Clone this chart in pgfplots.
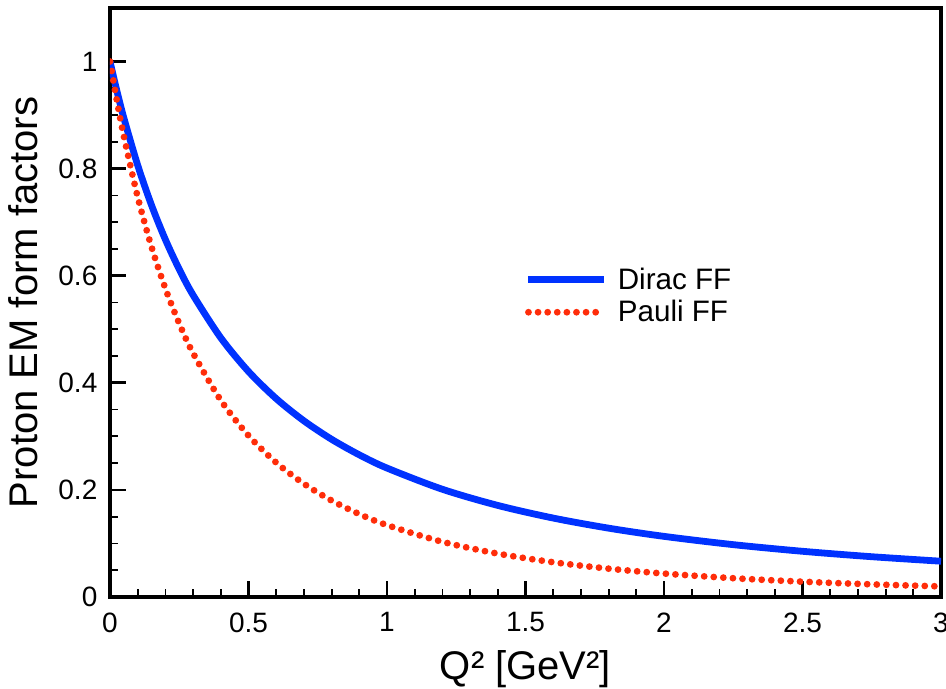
\documentclass[border=0pt]{standalone}
\usepackage{fontspec}
\setmainfont{Liberation Sans}
\usepackage{pgfplots}
\pgfplotsset{compat=1.18}
\definecolor{dblue}{RGB}{0,50,255}
\definecolor{pred}{RGB}{255,45,10}
\begin{document}
\begin{tikzpicture}
\begin{axis}[
  at={(0,0)}, anchor=south west,
  scale only axis,
  width=415.5pt, height=294.5pt,
  xmin=0, xmax=3, ymin=0, ymax=1.1,
  xtick={0,0.5,1,1.5,2,2.5,3},
  xticklabels={0,0.5,1,1.5,2,2.5,3},
  ytick={0,0.2,0.4,0.6,0.8,1},
  yticklabels={0,0.2,0.4,0.6,0.8,1},
  minor x tick num=4,
  minor y tick num=3,
  xtick pos=left, ytick pos=left,
  tick align=inside,
  axis line style={line width=1.7pt},
  major tick length=8pt, minor tick length=4pt,
  major tick style={line width=1.4pt, black},
  minor tick style={line width=0.9pt, black},
  /pgf/number format/assume math mode=true,
  tick label style={font=\fontsize{14}{16}\selectfont},
  xticklabel style={yshift=-4.3pt},
  yticklabel style={xshift=-2.8pt},
  xlabel={Q² [GeV²]},
  ylabel={Proton EM form factors},
  xlabel style={font=\fontsize{20}{24}\selectfont, at={(axis description cs:0.5,-0.1409)}, anchor=base},
  ylabel style={font=\fontsize{20}{24}\selectfont, at={(axis description cs:-0.1047,0.5)}, anchor=center, rotate=0},
  legend style={draw=none, fill=none, at={(axis description cs:0.499,0.511)}, anchor=west,
    font=\fontsize{14.8}{17}\selectfont, row sep=0pt, cells={anchor=west}, inner sep=0pt,
    nodes={inner xsep=5pt}},
  legend image code/.code={\draw[#1] (0pt,0pt) -- (38pt,0pt);},
  clip=true,
]
\addplot[dblue, line width=3.4pt, smooth] coordinates {
(0,1) (0.025,0.94493) (0.05,0.89467) (0.1,0.80639) (0.15,0.73155) (0.2,0.66744)
(0.25,0.61202) (0.3,0.56377) (0.4,0.48401) (0.5,0.42111) (0.6,0.37047) (0.7,0.32899)
(0.8,0.29451) (0.9,0.26550) (1.0,0.24080) (1.2,0.20118) (1.4,0.17101) (1.6,0.14742)
(1.8,0.12857) (2.0,0.11324) (2.25,0.09777) (2.5,0.08536) (2.75,0.07523) (3.0,0.06684)
};
\addlegendentry{Dirac FF}
\addplot[pred, line width=3.4pt, line cap=round, dash pattern=on 0pt off 4.8pt, smooth] coordinates {
(0,1) (0.025,0.92655) (0.05,0.86052) (0.1,0.74710) (0.15,0.65372) (0.2,0.57601)
(0.25,0.51070) (0.3,0.45535) (0.4,0.36738) (0.5,0.30147) (0.6,0.25096) (0.7,0.21149)
(0.8,0.18014) (0.9,0.15487) (1.0,0.13425) (1.2,0.10304) (1.4,0.08100) (1.6,0.06494)
(1.8,0.05294) (2.0,0.04377) (2.25,0.03510) (2.5,0.02860) (2.75,0.02364) (3.0,0.01977)
};
\addlegendentry{Pauli FF}
\end{axis}
\pgfresetboundingbox
\path[use as bounding box] (-55pt,-46pt) rectangle (418pt,298.5pt);
\end{tikzpicture}
\end{document}
